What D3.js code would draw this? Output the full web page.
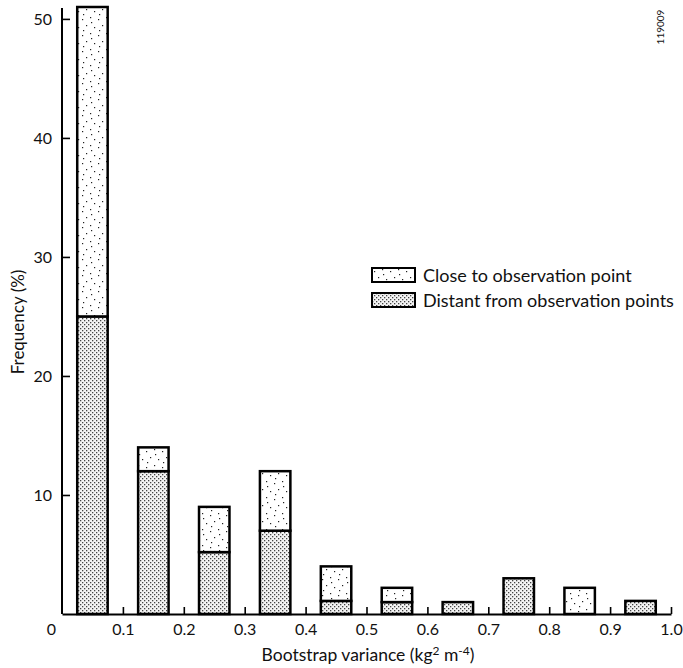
<!DOCTYPE html>
<html>
<head>
<meta charset="utf-8">
<script src="https://cdn.jsdelivr.net/npm/d3@7"></script>
<style>
  body { margin: 0; background: #fff; }
  svg text { font-family: Lato, "Open Sans", sans-serif; fill: #111; }
</style>
</head>
<body>
<svg width="683" height="668"></svg>
<script>
// bins of bootstrap variance (lower edge), width 0.1
var binStarts = [0, 0.1, 0.2, 0.3, 0.4, 0.5, 0.6, 0.7, 0.8, 0.9];
// frequency (%) per bin, stacked: distant at the bottom, close on top
var distant = [25, 12, 5.2, 7, 1.1, 1.0, 1.0, 3.0, 0, 1.1];
var close   = [26, 2, 3.8, 5, 2.9, 1.2, 0, 0, 2.2, 0];
var xTicks = [0, 0.1, 0.2, 0.3, 0.4, 0.5, 0.6, 0.7, 0.8, 0.9, 1.0];
var yTicks = [10, 20, 30, 40, 50];
var seriesNames = ["Close to observation point", "Distant from observation points"];

var svg = d3.select("svg");

var scX = d3.scaleLinear().domain([0, 1]).range([62, 671]);
var scY = d3.scaleLinear().domain([0, 51]).range([614, 7]);

// fill patterns: sparse stipple and dense stipple
var defs = svg.append("defs");
var sp = defs.append("pattern").attr("id", "sparse")
  .attr("patternUnits", "userSpaceOnUse").attr("width", 16).attr("height", 16);
sp.append("rect").attr("width", 16).attr("height", 16).attr("fill", "#fff");
[[2, 3], [10, 1], [6, 9], [14, 11], [3, 14], [11, 6]].forEach(function (p) {
  sp.append("rect").attr("x", p[0]).attr("y", p[1])
    .attr("width", 1.2).attr("height", 1.2).attr("fill", "#222");
});
var dn = defs.append("pattern").attr("id", "dense")
  .attr("patternUnits", "userSpaceOnUse").attr("width", 4).attr("height", 4);
dn.append("rect").attr("width", 4).attr("height", 4).attr("fill", "#f4f4f4");
dn.append("rect").attr("x", 0).attr("y", 0).attr("width", 1.3).attr("height", 1.3).attr("fill", "#444");
dn.append("rect").attr("x", 2).attr("y", 2).attr("width", 1.3).attr("height", 1.3).attr("fill", "#444");

var data = binStarts.map(function (b, i) {
  return { x0: b + 0.025, x1: b + 0.075, d: distant[i], c: close[i] };
});

var bars = svg.append("g").attr("id", "bars");

// distant part (bottom)
bars.selectAll("rect.dist")
  .data(data.filter(d => d.d > 0)).enter().append("rect")
  .attr("class", "dist")
  .attr("x", d => scX(d.x0))
  .attr("width", d => scX(d.x1) - scX(d.x0))
  .attr("y", d => scY(d.d))
  .attr("height", d => scY(0) - scY(d.d))
  .attr("fill", "url(#dense)")
  .attr("stroke", "#000").attr("stroke-width", 2.5);

// close part (top)
bars.selectAll("rect.close")
  .data(data.filter(d => d.c > 0)).enter().append("rect")
  .attr("class", "close")
  .attr("x", d => scX(d.x0))
  .attr("width", d => scX(d.x1) - scX(d.x0))
  .attr("y", d => scY(d.d + d.c))
  .attr("height", d => scY(d.d) - scY(d.d + d.c))
  .attr("fill", "url(#sparse)")
  .attr("stroke", "#000").attr("stroke-width", 2.5);

// axes
var axX = d3.axisBottom(scX).tickValues(xTicks)
  .tickFormat(d => d === 0 ? "0" : d3.format(".1f")(d))
  .tickSizeInner(-7).tickSizeOuter(0).tickPadding(10);
var gx = svg.append("g").attr("transform", "translate(0,614)").call(axX);
gx.select(".domain").attr("stroke-width", 2);
gx.selectAll(".tick line").attr("stroke-width", 1.6);
gx.selectAll(".tick text").attr("font-size", 16).attr("font-family", "Lato, sans-serif");
gx.selectAll(".tick").filter(d => d === 0).select("text").attr("x", -11);
gx.selectAll(".tick").filter(d => d === 0).select("line").remove();

var axY = d3.axisLeft(scY).tickValues(yTicks)
  .tickSizeInner(-8).tickSizeOuter(0).tickPadding(10);
var gy = svg.append("g").attr("transform", "translate(62,0)").call(axY);
gy.select(".domain").attr("stroke-width", 2).attr("d", "M0," + scY(0) + "V" + (scY(51) + 1));
gy.selectAll(".tick line").attr("stroke-width", 1.6);
gy.selectAll(".tick text").attr("font-size", 16).attr("font-family", "Lato, sans-serif");

// axis titles
svg.append("text")
  .attr("transform", "translate(24,322) rotate(-90)")
  .attr("text-anchor", "middle").attr("font-size", 17)
  .text("Frequency (%)");

var xt = svg.append("text")
  .attr("x", 368).attr("y", 661)
  .attr("text-anchor", "middle").attr("font-size", 17.5);
xt.append("tspan").text("Bootstrap variance (kg");
xt.append("tspan").attr("dy", -6).attr("font-size", 12).text("2");
xt.append("tspan").attr("dy", 6).text(" m");
xt.append("tspan").attr("dy", -6).attr("font-size", 12).text("-4");
xt.append("tspan").attr("dy", 6).text(")");

// legend
var lg = svg.append("g").attr("transform", "translate(372,268)");
var items = lg.selectAll("g").data(seriesNames).enter().append("g")
  .attr("transform", (d, i) => "translate(0," + (i * 25) + ")");
items.append("rect")
  .attr("width", 43).attr("height", 14)
  .attr("fill", (d, i) => i === 0 ? "url(#sparse)" : "url(#dense)")
  .attr("stroke", "#000").attr("stroke-width", 2);
items.append("text")
  .attr("x", 51).attr("y", 14)
  .attr("font-size", 18)
  .text(d => d);

// figure code, top right
svg.append("text")
  .attr("transform", "translate(664,27) rotate(-90)")
  .attr("text-anchor", "middle").attr("font-size", 10)
  .text("119009");
</script>
</body>
</html>
